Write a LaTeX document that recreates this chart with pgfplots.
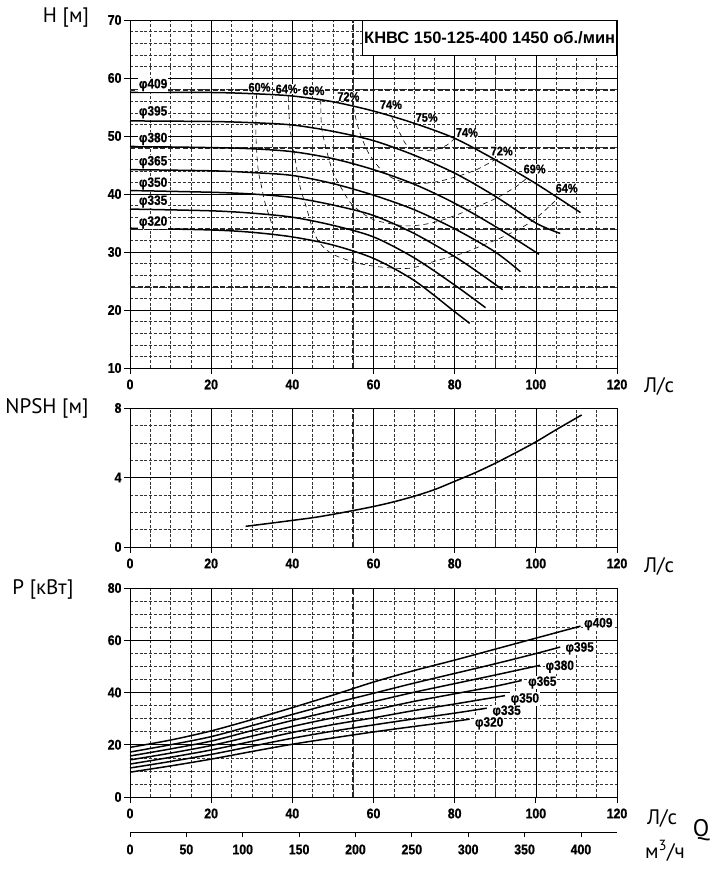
\documentclass[border=0pt]{standalone}
\usepackage{fontspec}
\setmainfont{Liberation Sans}
\newfontfamily\lblfont{PT Sans}
\newfontfamily\tickfont[FakeStretch=0.88, FakeBold=0.8]{Liberation Sans}
\usepackage{pgfplots}
\pgfplotsset{compat=1.18}
\pgfplotsset{
 pumpaxis/.style={
  scale only axis, width=487pt, xmin=0, xmax=120,
  xtick={0,20,...,120}, minor x tick num=3,
  grid=both,
  major grid style={black, line width=0.6pt},
  minor grid style={black!80, line width=0.45pt, dash pattern=on 3pt off 1.8pt},
  axis line style={black, line width=0.9pt},
  tick align=outside, major tick length=6pt, minor tick length=0pt,
  xtick pos=bottom, ytick pos=left,
  tick style={black, line width=0.8pt},
  ticklabel style={font=\tickfont\bfseries\fontsize{14}{14}\selectfont},
  xticklabel style={yshift=-2pt},
  yticklabel style={xshift=1pt},
  /pgf/number format/assume math mode=true,
  anchor=south west, clip=false,
 },
}
\tikzset{
 thickdash/.style={black!85, line width=1.5pt, dash pattern=on 5pt off 2.5pt},
 curve/.style={black, line width=1.5pt, smooth},
 eff/.style={black, line width=0.6pt, dash pattern=on 5pt off 4pt, smooth},
 dlab/.style={fill=white, inner sep=0.8pt, font=\tickfont\bfseries\fontsize{13.5}{13.5}\selectfont},
 plab/.style={fill=white, inner sep=0.5pt, font=\tickfont\bfseries\fontsize{12.5}{12.5}\selectfont},
}
\begin{document}
\begin{tikzpicture}
\useasboundingbox (0,0) rectangle (718pt,884pt);
% ---------------- H panel ----------------
\begin{axis}[pumpaxis, at={(130pt,516pt)}, height=348pt,
  ymin=10, ymax=70, ytick={10,20,...,70}, minor y tick num=4]
\addplot[thickdash] coordinates {(55,10) (55,70)};
\addplot[thickdash] coordinates {(90,10) (90,70)};
\addplot[thickdash] coordinates {(0,57.9) (120,57.9)};
\addplot[thickdash] coordinates {(0,47.9) (120,47.9)};
\addplot[thickdash] coordinates {(0,34) (120,34)};
\addplot[thickdash] coordinates {(0,24) (120,24)};
% efficiency curves
\addplot[eff] coordinates {(31.2,57.3) (31.0,51.6) (31.2,47.6) (31.6,44.1) (32.4,41.3) (33.3,38.4) (34.9,34.9) (35.5,33.0)};
\addplot[eff] coordinates {(39.0,56.9) (39.4,51.6) (40.6,46.4) (41.9,41.3) (43.5,37.6) (45.1,33.8) (46.8,31.5) (50,29.6) (56,28.1) (62,27.4) (69,27.2) (75.5,28.5) (82.1,29.8) (87,31.2) (91.9,32.6) (97.7,34.7) (101,36.4) (105.5,39.3)};
\addplot[eff] coordinates {(47.0,56.3) (47.2,51.6) (48.4,47.6) (50.1,43.6) (52.1,41.0) (54.2,38.6) (56.7,37.0) (59.9,35.6) (64,34.9) (68.1,34.5) (72,34.7) (76,35.3) (80.5,36.4) (85.4,37.8) (90.3,39.3) (95.2,41.3) (97.7,42.7)};
\addplot[eff] coordinates {(55.0,55.1) (56.0,52.0) (57.2,49.5) (59.0,46.8) (62.0,44.1) (65.7,42.4) (70.6,41.8) (75.5,42.1) (80.5,43.0) (85.4,44.2) (89.9,45.9)};
\addplot[eff] coordinates {(64.4,53.4) (66.5,50.5) (68.1,48.5) (70.6,47.6) (74.7,47.6) (78,48.4) (80,49.6)};
% head curves
\addplot[curve] coordinates {(0,57.5) (20,57.5) (30,57.3) (40,56.9) (50,55.9) (60,54.3) (70,52.2) (80,49.6) (90,45.9) (100,41.8) (111,36.8)};
\addplot[curve] coordinates {(0,52.6) (20,52.5) (30,52.3) (40,51.9) (50,50.8) (60,49.2) (70,46.7) (80,43.6) (90,39.6) (100,35.0) (106,33.2)};
\addplot[curve] coordinates {(0,48.2) (20,48.0) (30,47.8) (40,47.3) (50,46.1) (60,44.2) (70,41.7) (80,38.4) (90,34.4) (100.8,29.6)};
\addplot[curve] coordinates {(0,44.2) (20,44.0) (30,43.7) (40,43.2) (50,41.8) (60,39.8) (70,37.3) (80,34.0) (90,30.0) (96.2,26.6)};
\addplot[curve] coordinates {(0,40.6) (20,40.3) (30,40.0) (40,39.4) (50,38.1) (60,36.3) (70,33.2) (80,29.2) (86,26.4) (91.8,23.5)};
\addplot[curve] coordinates {(0,37.4) (20,37.1) (30,36.7) (40,36.0) (50,34.6) (60,32.6) (70,29.0) (80,24.3) (87.6,20.4)};
\addplot[curve] coordinates {(0,34.1) (20,33.8) (30,33.4) (40,32.6) (50,31.2) (60,28.9) (70,25.1) (80,19.7) (83.7,17.7)};
% labels
\node[dlab] at (axis cs:5.7,58.8) {φ409};
\node[dlab] at (axis cs:5.7,54.1) {φ395};
\node[dlab] at (axis cs:5.7,49.5) {φ380};
\node[dlab] at (axis cs:5.7,45.5) {φ365};
\node[dlab] at (axis cs:5.7,41.8) {φ350};
\node[dlab] at (axis cs:5.7,38.7) {φ335};
\node[dlab] at (axis cs:5.7,35.1) {φ320};
\node[plab] at (axis cs:31.9,58.4) {60\%};
\node[plab] at (axis cs:38.6,58.1) {64\%};
\node[plab] at (axis cs:45.2,57.8) {69\%};
\node[plab] at (axis cs:53.8,56.8) {72\%};
\node[plab] at (axis cs:64.3,55.4) {74\%};
\node[plab] at (axis cs:73.1,53.2) {75\%};
\node[plab] at (axis cs:83.0,50.6) {74\%};
\node[plab] at (axis cs:91.6,47.4) {72\%};
\node[plab] at (axis cs:99.7,44.3) {69\%};
\node[plab] at (axis cs:107.6,41.0) {64\%};
\node[draw=black, fill=white, line width=0.6pt, anchor=north east, minimum width=254pt, minimum height=35pt, inner sep=0pt,
  font=\bfseries\fontsize{16.5}{16.5}\selectfont] at (rel axis cs:1,1) {КНВС 150-125-400 1450 об./мин};
\end{axis}
% ---------------- NPSH panel ----------------
\begin{axis}[pumpaxis, at={(130pt,337pt)}, height=139pt,
  ymin=0, ymax=8, ytick={0,4,8}, minor y tick num=3]
\addplot[thickdash] coordinates {(55,0) (55,8)};
\addplot[thickdash] coordinates {(90,0) (90,8)};
\addplot[curve] coordinates {(28.5,1.19) (35,1.38) (40.3,1.54) (46,1.72) (52.8,2.0) (60,2.33) (65,2.6) (70,2.92) (75,3.3) (80,3.78) (85,4.27) (90,4.82) (95,5.42) (100,6.05) (105,6.75) (111.3,7.6)};
\end{axis}
% ---------------- P panel ----------------
\begin{axis}[pumpaxis, at={(130pt,87pt)}, height=209pt,
  ymin=0, ymax=80, ytick={0,20,...,80}, minor y tick num=3]
\addplot[thickdash] coordinates {(55,0) (55,80)};
\addplot[thickdash] coordinates {(90,0) (90,80)};
\addplot[curve] coordinates {(0,19.0) (10,21.8) (20,25.3) (30,29.6) (40,34.2) (50,39.0) (60,44.0) (70,48.4) (80,52.4) (90,56.6) (100,60.8) (111,65.4)};
\addplot[curve] coordinates {(0,17.2) (10,20.0) (20,23.1) (30,27.3) (40,31.6) (50,35.8) (60,39.7) (70,43.6) (80,47.3) (90,51.0) (100,54.9) (106,57.4)};
\addplot[curve] coordinates {(0,15.7) (10,18.4) (20,21.4) (30,25.4) (40,29.3) (50,33.0) (60,36.5) (70,40.1) (80,43.4) (90,46.7) (101,50.4)};
\addplot[curve] coordinates {(0,14.2) (10,16.8) (20,19.7) (30,23.3) (40,27.0) (50,30.3) (60,33.3) (70,36.6) (80,39.5) (90,42.4) (96.5,44.6)};
\addplot[curve] coordinates {(0,12.6) (10,15.2) (20,18.0) (30,21.3) (40,24.7) (50,27.7) (60,30.3) (70,33.1) (80,35.6) (92.4,38.8)};
\addplot[curve] coordinates {(0,11.1) (10,13.6) (20,16.3) (30,19.4) (40,22.5) (50,25.2) (60,27.6) (70,29.9) (80,32.1) (87.9,34.0)};
\addplot[curve] coordinates {(0,9.5) (10,11.9) (20,14.5) (30,17.4) (40,20.2) (50,22.6) (60,24.9) (70,27.0) (80,29.0) (83.7,29.8)};
\node[dlab] at (axis cs:115.4,66.2) {φ409};
\node[dlab] at (axis cs:110.8,56.9) {φ395};
\node[dlab] at (axis cs:105.9,49.9) {φ380};
\node[dlab] at (axis cs:101.6,43.8) {φ365};
\node[dlab] at (axis cs:97.3,37.4) {φ350};
\node[dlab] at (axis cs:92.8,32.7) {φ335};
\node[dlab] at (axis cs:88.5,28.2) {φ320};
\end{axis}
% ---------------- m3/h scale ----------------
\begin{axis}[scale only axis, width=487pt, height=10pt, at={(130pt,52pt)}, anchor=south west,
  xmin=0, xmax=432, ymin=0, ymax=1,
  axis x line*=bottom, axis y line=none,
  xtick={0,50,...,400}, tick align=outside, major tick length=5pt, xtick pos=bottom,
  axis line style={black, line width=0.9pt}, tick style={black, line width=0.8pt},
  ticklabel style={font=\tickfont\bfseries\fontsize{14}{14}\selectfont},
  xticklabel style={yshift=-4pt},
  /pgf/number format/assume math mode=true]
\addplot[draw=none] coordinates {(0,0) (432,0)};
\end{axis}
% ---------------- outer labels ----------------
\node[font=\lblfont\fontsize{21}{21}\selectfont] at (66pt,866pt) {H [м]};
\node[font=\lblfont\fontsize{21}{21}\selectfont] at (47pt,476pt) {NPSH [м]};
\node[font=\lblfont\fontsize{21}{21}\selectfont] at (43pt,295pt) {P [кВт]};
\node[font=\lblfont\fontsize{21}{21}\selectfont] at (659pt,498pt) {Л/с};
\node[font=\lblfont\fontsize{21}{21}\selectfont] at (659pt,318pt) {Л/с};
\node[font=\lblfont\fontsize{21}{21}\selectfont] at (662pt,66pt) {Л/с};
\node[font=\lblfont\fontsize{24}{24}\selectfont] at (701pt,54pt) {Q};
\node[font=\lblfont\fontsize{21}{21}\selectfont] at (665pt,33pt) {м\textsuperscript{3}/ч};
\end{tikzpicture}
\end{document}
